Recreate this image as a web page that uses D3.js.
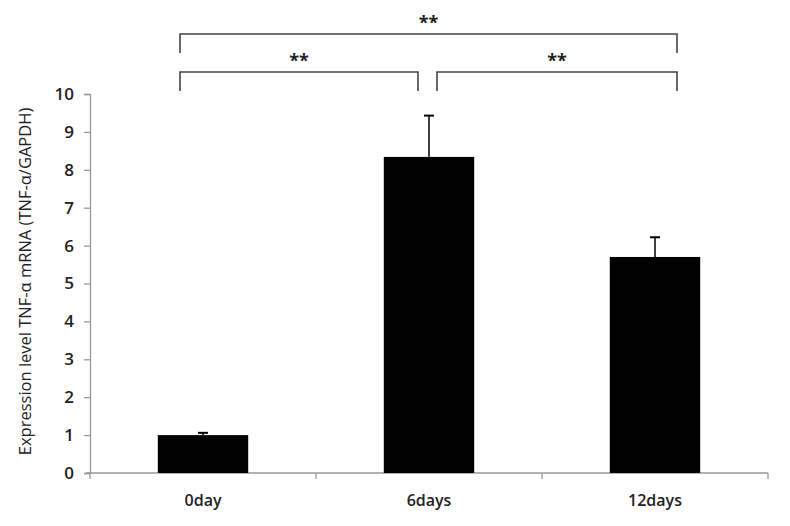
<!DOCTYPE html>
<html>
<head>
<meta charset="utf-8">
<script src="https://cdnjs.cloudflare.com/ajax/libs/d3/7.8.5/d3.min.js"></script>
<style>
  body { margin: 0; background: #fff; }
  #chart text { font-family: "Open Sans", "Liberation Sans", sans-serif; fill: #222; }
</style>
</head>
<body>
<div id="chart"></div>
<script>
  var categories = ['0day', '6days', '12days'];
  var means = [1.0, 8.34, 5.70];
  var errors = [0.06, 1.09, 0.52];
  var yTicks = [0, 1, 2, 3, 4, 5, 6, 7, 8, 9, 10];
  // significance brackets: [from index, to index, label, level]
  var brackets = [
    { from: 0, to: 2, label: '**', level: 1 },
    { from: 0, to: 1, label: '**', level: 0 },
    { from: 1, to: 2, label: '**', level: 0 }
  ];

  var width = 790, height = 526;
  var margin = { top: 94, left: 90, right: 22, bottom: 53 };

  var svg = d3.select('#chart').append('svg')
    .attr('width', width)
    .attr('height', height);

  var x = d3.scaleBand()
    .domain(categories)
    .range([margin.left, width - margin.right])
    .paddingInner(0.6)
    .paddingOuter(0.3);

  var y = d3.scaleLinear()
    .domain([0, 10])
    .range([height - margin.bottom, margin.top]);

  //---- y axis
  var yAxis = svg.append('g')
    .attr('transform', 'translate(' + margin.left + ',0)')
    .call(d3.axisLeft(y).tickValues(yTicks).tickSize(6).tickPadding(10));
  yAxis.select('.domain').attr('stroke', '#999').attr('stroke-width', 1.3);
  yAxis.selectAll('.tick line').attr('stroke', '#999').attr('stroke-width', 1.3);
  yAxis.selectAll('.tick text').style('font-size', '17px').style('font-weight', '600');

  //---- x axis, ticks sit between the categories
  var xStart = margin.left, xEnd = width - margin.right;
  var xg = svg.append('g').attr('class', 'x-axis');
  xg.append('line')
    .attr('x1', xStart - 4).attr('x2', xEnd)
    .attr('y1', y(0)).attr('y2', y(0))
    .attr('stroke', '#999').attr('stroke-width', 1.3);
  var sepTicks = d3.range(categories.length + 1).map(function (i) {
    return xStart + (xEnd - xStart) * i / categories.length;
  });
  xg.selectAll('line.sep').data(sepTicks).enter()
    .append('line')
    .attr('class', 'sep')
    .attr('x1', function (d) { return d; })
    .attr('x2', function (d) { return d; })
    .attr('y1', y(0)).attr('y2', y(0) + 6)
    .attr('stroke', '#999').attr('stroke-width', 1.3);
  xg.selectAll('text').data(categories).enter()
    .append('text')
    .attr('x', function (d) { return x(d) + x.bandwidth() / 2; })
    .attr('y', y(0) + 33)
    .attr('text-anchor', 'middle')
    .style('font-size', '16px')
    .style('font-weight', '600')
    .text(function (d) { return d; });

  //---- bars
  svg.selectAll('rect.bar').data(categories).enter()
    .append('rect')
    .attr('class', 'bar')
    .attr('x', function (d) { return x(d); })
    .attr('width', x.bandwidth())
    .attr('y', function (d, i) { return y(means[i]); })
    .attr('height', function (d, i) { return y(0) - y(means[i]); })
    .attr('fill', '#000');

  //---- error bars (upper only)
  var eb = svg.selectAll('g.err').data(categories).enter()
    .append('g').attr('class', 'err');
  eb.append('line')
    .attr('x1', function (d) { return x(d) + x.bandwidth() / 2; })
    .attr('x2', function (d) { return x(d) + x.bandwidth() / 2; })
    .attr('y1', function (d, i) { return y(means[i]); })
    .attr('y2', function (d, i) { return y(means[i] + errors[i]); })
    .attr('stroke', '#000').attr('stroke-width', 1.5);
  eb.append('line')
    .attr('x1', function (d) { return x(d) + x.bandwidth() / 2 - 5; })
    .attr('x2', function (d) { return x(d) + x.bandwidth() / 2 + 5; })
    .attr('y1', function (d, i) { return y(means[i] + errors[i]); })
    .attr('y2', function (d, i) { return y(means[i] + errors[i]); })
    .attr('stroke', '#000').attr('stroke-width', 2);

  //---- significance brackets
  var levelY = [72, 34], drop = 19;
  brackets.forEach(function (b) {
    var x1 = x(categories[b.from]) + x.bandwidth() / 2 - 23;
    var x2 = x(categories[b.to]) + x.bandwidth() / 2 + 22;
    if (b.level === 0 && b.from === 0) x2 = x(categories[b.to]) + x.bandwidth() / 2 - 11;
    if (b.level === 0 && b.from === 1) x1 = x(categories[b.from]) + x.bandwidth() / 2 + 8;
    var yy = levelY[b.level];
    svg.append('path')
      .attr('d', 'M' + x1 + ',' + (yy + drop) + 'V' + yy + 'H' + x2 + 'V' + (yy + drop))
      .attr('fill', 'none')
      .attr('stroke', '#444')
      .attr('stroke-width', 1.6);
    svg.append('text')
      .attr('x', (x1 + x2) / 2)
      .attr('y', yy - 5)
      .attr('text-anchor', 'middle')
      .style('font-size', '18px')
      .style('font-weight', '700')
      .text(b.label);
  });

  //---- y axis title
  svg.append('text')
    .attr('transform', 'translate(31,' + ((y(0) + y(10)) / 2 - 2) + ') rotate(-90)')
    .attr('text-anchor', 'middle')
    .style('font-size', '16.5px')
    .style('font-weight', '500')
    .text('Expression level TNF-α mRNA (TNF-α/GAPDH)');
</script>
</body>
</html>
